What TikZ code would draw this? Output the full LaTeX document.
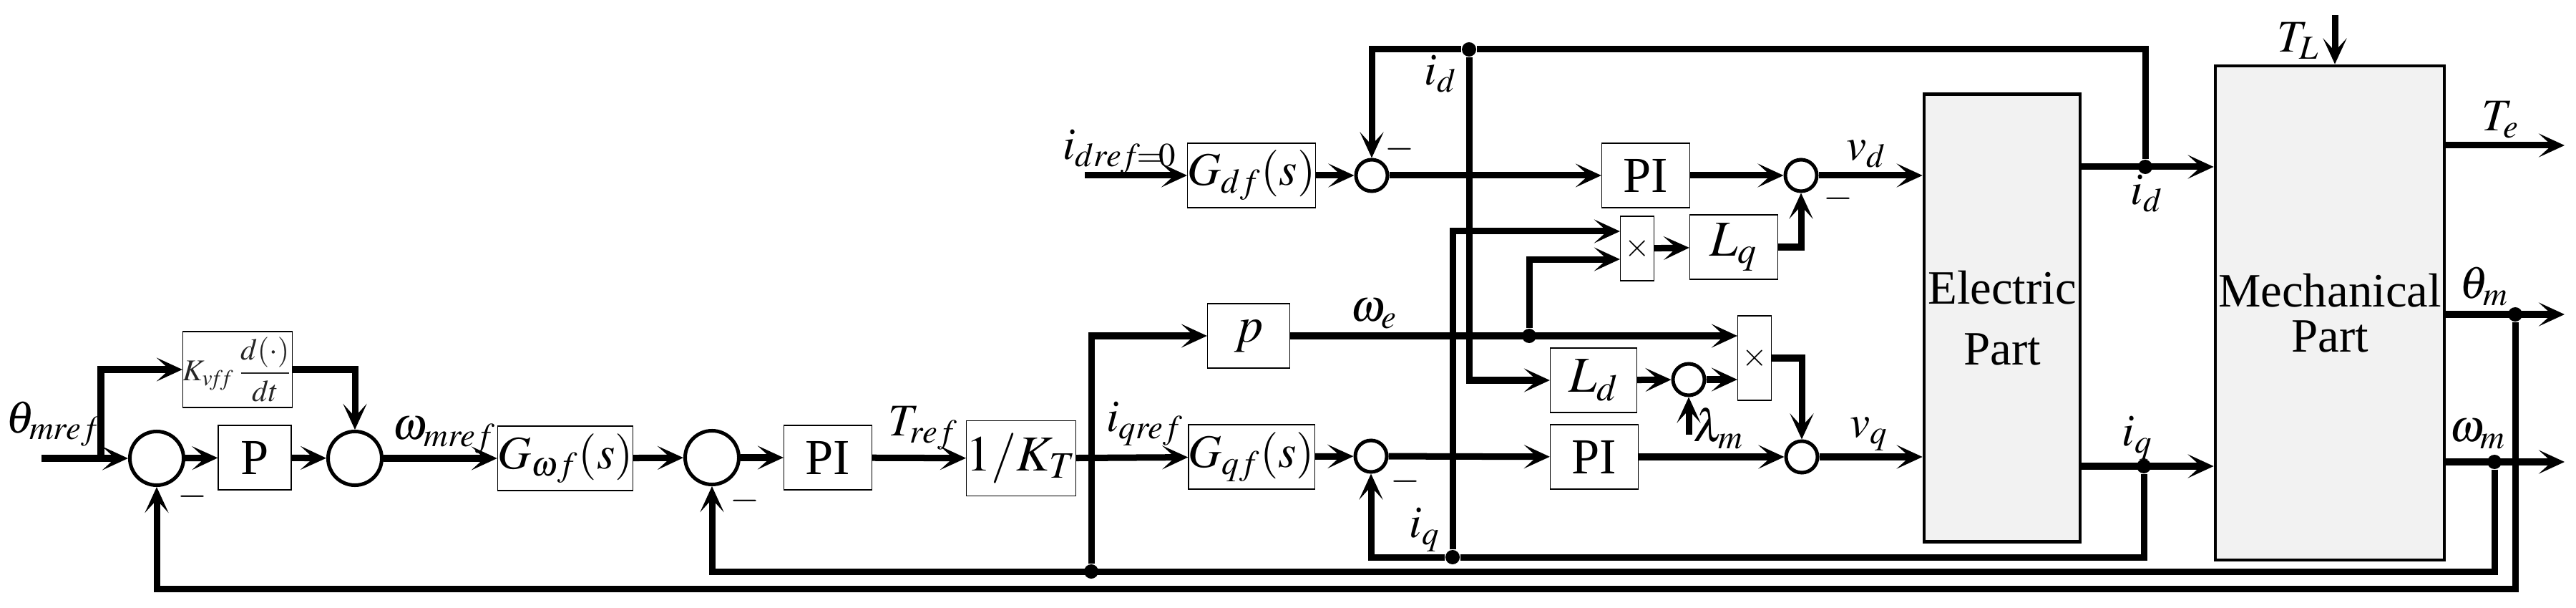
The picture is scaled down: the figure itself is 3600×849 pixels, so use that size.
\documentclass[tikz,border=0pt]{standalone}
\usepackage{mathptmx}
\usepackage{fontspec}
\setmainfont{Liberation Serif}
\usetikzlibrary{arrows.meta}

\begin{document}
\begin{tikzpicture}[x=0.01cm,y=-0.01cm,
    >={Stealth[length=0.36cm,width=0.33cm,inset=0.18cm]},
    block/.style={draw,line width=0.35pt,inner sep=0pt,minimum width=1.23cm,minimum height=0.9cm,font=\fontsize{20}{22}\selectfont},
    mult/.style={block,minimum width=0.47cm,font=\fontsize{13}{14}\selectfont},
    plant/.style={draw,line width=0.045cm,fill=black!5,inner sep=0pt,align=center,font=\fontsize{19}{24}\selectfont},
    sumc/.style={circle,draw,line width=0.05cm,inner sep=0pt,minimum size=0.75cm},
    sums/.style={sumc,minimum size=0.44cm},
    conn/.style={->,line width=0.09cm},
    dot/.style={circle,fill,inner sep=0pt,minimum size=0.2cm},
    lbl/.style={inner sep=0pt,font=\fontsize{18}{20}\selectfont},
    neg/.style={inner sep=0pt,font=\fontsize{15}{16}\selectfont}]

\useasboundingbox (0,0) rectangle (3600,849);

% position and speed loops
\node[sumc] (s1) at (219,640) {};
\node[block,minimum width=1.49cm,minimum height=1.06cm,font=\fontsize{12}{14}\selectfont,text=black!85] (kff) at (332,516) {$K_{v\!f\!f}\,\displaystyle\frac{d(\cdot)}{dt}$};
\node[block,minimum width=1.02cm] (pgain) at (356,639) {P};
\node[sumc] (s2) at (496,640) {};
\node[block,minimum width=1.73cm,font=\fontsize{18.5}{20}\selectfont] (gwf) at (790,640) {$G_{\omega f}(s)$};
\node[sumc] (s3) at (995,639) {};
\node[block] (piw) at (1157,639) {PI};
\node[block,minimum width=1.45cm,minimum height=1.05cm] (invkt) at (1427,640) {$1/K_T$};

% current loops
\node[block,minimum width=1.15cm] (pp) at (1745,469) {$p$};
\node[block,minimum width=1.75cm,font=\fontsize{18.5}{20}\selectfont] (gqf) at (1749,638) {$G_{qf}(s)$};
\node[block,minimum width=1.75cm,font=\fontsize{18.5}{20}\selectfont] (gdf) at (1749,245) {$G_{df}(s)$};
\node[sums] (sq) at (1916,637) {};
\node[sums] (sd) at (1917,245) {};
\node[block] (pid) at (2300,245) {PI};
\node[block] (piq) at (2228,638) {PI};
\node[mult] (mula) at (2288,347) {$\times$};
\node[block] (lq) at (2423,345) {$L_q$};
\node[block,minimum width=1.21cm] (ld) at (2227,531) {$L_d$};
\node[sums] (sl) at (2360,530) {};
\node[mult,minimum height=1.18cm] (mulb) at (2452,500) {$\times$};
\node[sums] (svd) at (2517,245) {};
\node[sums] (svq) at (2518,638) {};

% motor
\node[plant,minimum width=2.18cm,minimum height=6.25cm] (elec) at (2798,444) {Electric\\Part};
\node[plant,minimum width=3.2cm,minimum height=6.9cm] (mech) at (3256,437) {Mechanical\\[-6pt]Part};

% branch points
\node[dot] (idtap) at (2053,69) {};
\node[dot] (idout) at (2998,233) {};
\node[dot] (iqout) at (2996,651) {};
\node[dot] (iqtap) at (2030,778) {};
\node[dot] (we1) at (2137,469) {};
\node[dot] (thtap) at (3515,439) {};
\node[dot] (wmtap) at (3486,645) {};
\node[dot] (wm1) at (1525,798) {};
\coordinate (thin) at (58,640);
\coordinate (br1) at (141,640);
\coordinate (din) at (1516,245);
\coordinate (lam) at (2360,607);
\coordinate (tl) at (3263,21);
\coordinate (te) at (3584,203);
\coordinate (thm) at (3584,439);
\coordinate (wmo) at (3584,645);

\draw[conn] (thin) -- (s1);
\draw[conn] (br1) |- (kff);
\draw[conn] (s1) -- (pgain);
\draw[conn] (pgain) -- (s2);
\draw[conn] (kff) -| (s2);
\draw[conn] (s2) -- (gwf);
\draw[conn] (gwf) -- (s3);
\draw[conn] (s3) -- (piw);
\draw[conn] (piw) -- (invkt);
\draw[conn] (invkt) -- (gqf);
\draw[conn] (wm1) |- (pp);
\draw[conn] (gqf) -- (sq);
\draw[conn] (sq) -- (piq);
\draw[conn] (piq) -- (svq);
\draw[conn] (svq) -- (elec.west |- svq);
\draw[conn] (din) -- (gdf);
\draw[conn] (gdf) -- (sd);
\draw[conn] (sd) -- (pid);
\draw[conn] (pid) -- (svd);
\draw[conn] (svd) -- (elec.west |- svd);
\draw[conn] (elec.east |- idout) -- (mech.west |- idout);
\draw[conn] (idout) |- (idtap) -| (sd);
\draw[conn] (idtap) |- (ld);
\draw[conn] (ld) -- (sl);
\draw[conn] (lam) -- (sl);
\draw[conn] (sl) -- (mulb.west |- sl);
\draw[conn] (pp) -- (mulb.west |- pp);
\draw[conn] (we1) |- ([yshift=-0.15cm]mula.west);
\draw[conn] (elec.east |- iqout) -- (mech.west |- iqout);
\draw[conn] (iqout) |- (iqtap) -| (sq);
\draw[conn] (iqtap) |- ([yshift=0.24cm]mula.west);
\draw[conn] (mula) -- (lq);
\draw[conn] (lq) -| (svd);
\draw[conn] (mulb) -| (svq);
\draw[conn] (tl) -- (tl |- mech.north);
\draw[conn] (mech.east |- te) -- (te);
\draw[conn] (mech.east |- thm) -- (thm);
\draw[conn] (mech.east |- wmo) -- (wmo);
\draw[conn] (thtap) -- ++(0,383) -| (s1);
\draw[conn] (wmtap) -- ++(0,153) -| (s3);

% signal names
\node[lbl] (lthref) at (75,592) {$\theta_{mref}$};
\node[lbl] (lwref) at (621,608) {$\omega_{mref}$};
\node[lbl] (ltref) at (1290,598) {$T_{ref}$};
\node[lbl] (liqref) at (1600,592) {$i_{qref}$};
\node[lbl] (lidref) at (1565,212) {$i_{dref\!=\!0}$};
\node[lbl] (lida) at (2013,103) {$i_d$};
\node[lbl] (lidb) at (3000,270) {$i_d$};
\node[lbl] (liqa) at (1991,740) {$i_q$};
\node[lbl] (liqb) at (2987,612) {$i_q$};
\node[lbl] (lwe) at (1920,438) {$\omega_e$};
\node[lbl] (lvd) at (2608,215) {$v_d$};
\node[lbl] (lvq) at (2612,606) {$v_q$};
\node[lbl] (llam) at (2402,598) {$\lambda_m$};
\node[lbl] (ltl) at (3212,57) {$T_L$};
\node[lbl] (lte) at (3495,167) {$T_e$};
\node[lbl] (lthm) at (3472,400) {$\theta_m$};
\node[lbl] (lwm) at (3463,606) {$\omega_m$};

\node[neg] (n1) at (269,693) {$-$};
\node[neg] (n3) at (1041,699) {$-$};
\node[neg] (nq) at (1964,672) {$-$};
\node[neg] (nd) at (1956,208) {$-$};
\node[neg] (nvd) at (2569,277) {$-$};
\end{tikzpicture}
\end{document}
